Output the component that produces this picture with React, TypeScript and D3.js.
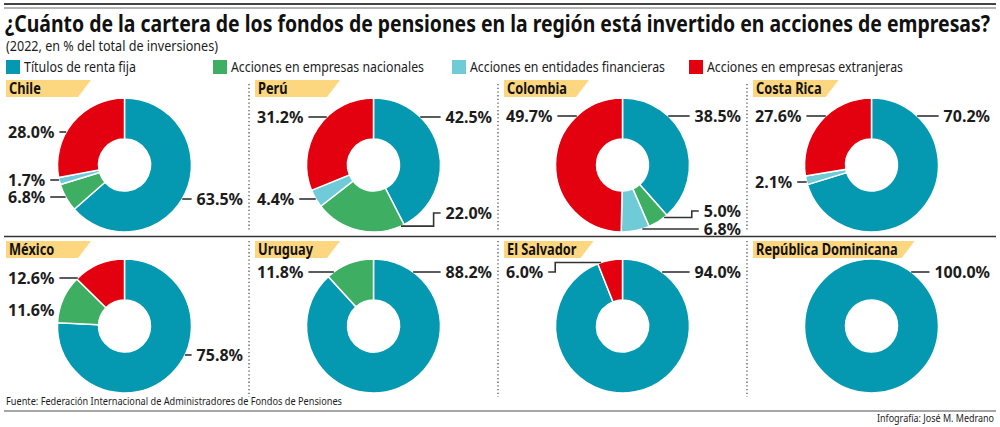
import React, { useRef, useEffect } from 'react';
import * as d3 from 'd3';

const title = '¿Cuánto de la cartera de los fondos de pensiones en la región está invertido en acciones de empresas?';
const subtitle = '(2022, en % del total de inversiones)';
const source = 'Fuente: Federación Internacional de Administradores de Fondos de Pensiones';
const credit = 'Infografía: José M. Medrano';

const countries = ['Chile', 'Perú', 'Colombia', 'Costa Rica', 'México', 'Uruguay', 'El Salvador', 'República Dominicana'];
const seriesNames = [
  'Títulos de renta fija',
  'Acciones en empresas nacionales',
  'Acciones en entidades financieras',
  'Acciones en empresas extranjeras',
];
const rentaFija = [63.5, 42.5, 38.5, 70.2, 75.8, 88.2, 94.0, 100.0];
const nacionales = [6.8, 22.0, 5.0, 0, 11.6, 11.8, 0, 0];
const financieras = [1.7, 4.4, 6.8, 2.1, 0, 0, 0, 0];
const extranjeras = [28.0, 31.2, 49.7, 27.6, 12.6, 0, 6.0, 0];

const seriesColors = ['#0499b0', '#3eae62', '#70cbd8', '#e3000f'];

// layout: legend positions / text widths
const legendX = [6, 213, 452, 689];
const legendW = [112, 193, 195, 196];
// label vertical offset from the pie centre, one per series (null = no label)
const labelDy: (number | null)[][] = [
  [34, 32, 15, -33],
  [-48, 48, 34, -48],
  [-49, 46, 64, -49],
  [-49, null, 17, -49],
  [29, -16, null, -48],
  [-54, -54, null, null],
  [-54, null, null, -54],
  [-54, null, null, null],
];

const WIDTH = 1000;
const HEIGHT = 427;
const R_OUT = 67;
const R_IN = 26;
const INK = '#1c1c1c';
const FONT = '"Noto Sans", sans-serif';

const App: React.FC = () => {
  const svgRef = useRef<SVGSVGElement>(null);

  useEffect(() => {
    if (!svgRef.current) return;
    const svg = d3.select(svgRef.current);
    svg.selectAll('*').remove();

    svg.append('rect').attr('width', WIDTH).attr('height', HEIGHT).attr('fill', '#fff');

    // top rules
    svg.append('line').attr('x1', 4).attr('x2', 996).attr('y1', 4).attr('y2', 4)
      .attr('stroke', '#444').attr('stroke-width', 1.8);
    svg.append('line').attr('x1', 4).attr('x2', 996).attr('y1', 8).attr('y2', 8)
      .attr('stroke', '#666').attr('stroke-width', 1);

    // title + subtitle
    svg.append('text')
      .attr('x', 5).attr('y', 32)
      .attr('textLength', 985).attr('lengthAdjust', 'spacingAndGlyphs')
      .style('font-family', FONT).style('font-weight', 700).style('font-size', '23.5px')
      .style('fill', '#111')
      .text(title);

    svg.append('text')
      .attr('x', 6).attr('y', 51)
      .attr('textLength', 212).attr('lengthAdjust', 'spacingAndGlyphs')
      .style('font-family', FONT).style('font-size', '15px').style('fill', INK)
      .text(subtitle);

    // legend
    seriesNames.forEach((name, i) => {
      svg.append('rect')
        .attr('x', legendX[i]).attr('y', 60).attr('width', 14).attr('height', 14)
        .attr('fill', seriesColors[i]);
      svg.append('text')
        .attr('x', legendX[i] + 18).attr('y', 72)
        .attr('textLength', legendW[i]).attr('lengthAdjust', 'spacingAndGlyphs')
        .style('font-family', FONT).style('font-size', '15px').style('fill', INK)
        .text(name);
    });

    const col = d3.scaleBand<number>().domain(d3.range(4)).range([0, 996]);
    const bw = col.bandwidth();
    const rowTop = [80, 241];

    // separators
    svg.append('line').attr('x1', 4).attr('x2', 996).attr('y1', 236.5).attr('y2', 236.5)
      .attr('stroke', '#333').attr('stroke-width', 1.3);
    [1, 2, 3].forEach(c => {
      [[84, 232], [241, 397]].forEach(([y1, y2]) => {
        svg.append('line')
          .attr('x1', col(c)!).attr('x2', col(c)!).attr('y1', y1).attr('y2', y2)
          .attr('stroke', '#555').attr('stroke-width', 1.3).attr('stroke-dasharray', '1.3,2.4');
      });
    });

    const pie = d3.pie<number>().sort(null).value(d => d);
    const arc = d3.arc<d3.PieArcDatum<number>>().innerRadius(R_IN).outerRadius(R_OUT);

    countries.forEach((name, ci) => {
      const c = ci % 4;
      const r = Math.floor(ci / 4);
      const x0 = col(c)!;
      const top = rowTop[r];
      const cx = x0 + bw / 2;
      const cy = top + 85;

      // banner
      const banner = svg.append('g');
      const bannerPath = banner.append('path').attr('fill', '#fdd680');
      const bannerText = banner.append('text')
        .attr('transform', `translate(${x0 + 9},${top + 14}) scale(0.8,1)`)
        .style('font-family', FONT).style('font-weight', 700).style('font-size', '16px')
        .style('fill', '#111')
        .text(name);
      const tw = (bannerText.node() as SVGTextElement).getComputedTextLength() * 0.8;
      const bW = Math.max(85, tw + 20);
      const bx = x0 + 6;
      bannerPath.attr('d', `M${bx},${top}H${bx + bW}L${bx + bW - 13},${top + 17}H${bx}Z`);

      // donut
      const values = [rentaFija[ci], nacionales[ci], financieras[ci], extranjeras[ci]];
      const arcs = pie(values);
      const g = svg.append('g').attr('transform', `translate(${cx},${cy})`);
      g.selectAll('path')
        .data(arcs.filter(a => a.value > 0))
        .enter()
        .append('path')
        .attr('d', arc)
        .attr('fill', a => seriesColors[a.index])
        .attr('stroke', '#fff')
        .attr('stroke-width', 1.5);

      // labels + leaders
      arcs.forEach((a, i) => {
        const dy = labelDy[ci][i];
        if (a.value <= 0 || dy === null) return;
        const side = a.startAngle < Math.PI ? 1 : -1;
        const y = cy + dy;
        const tx = side > 0 ? x0 + 243 : x0 + 8;
        const t = svg.append('text')
          .attr('x', tx).attr('y', y + 5.6)
          .attr('text-anchor', side > 0 ? 'end' : 'start')
          .style('font-family', FONT).style('font-weight', 700).style('font-size', '16px')
          .style('fill', INK)
          .text(`${a.value.toFixed(1)}%`);
        const w = (t.node() as SVGTextElement).getComputedTextLength();
        const edge = side > 0 ? tx - w : tx + w;
        const start = edge - side * 5;

        let d = '';
        if (Math.abs(dy) < R_OUT) {
          const hx = side * Math.sqrt(R_OUT * R_OUT - dy * dy);
          let th = Math.atan2(hx, -dy);
          if (th < 0) th += 2 * Math.PI;
          if (th >= a.startAngle && th <= a.endAngle) {
            d = `M${start},${y}H${cx + hx}`;
          }
        }
        if (!d) {
          const ang = a.startAngle + Math.min((a.endAngle - a.startAngle) * 0.35, (3 * Math.PI) / 180);
          const ax = cx + R_OUT * Math.sin(ang);
          const ay = cy - R_OUT * Math.cos(ang);
          const ex = edge - side * 12;
          d = `M${start},${y}H${ex}V${ay}H${ax}`;
        }
        svg.append('path')
          .attr('d', d)
          .attr('fill', 'none')
          .attr('stroke', '#333')
          .attr('stroke-width', 1.6);
      });
    });

    // footer
    svg.append('text')
      .attr('x', 6).attr('y', 405)
      .attr('textLength', 336).attr('lengthAdjust', 'spacingAndGlyphs')
      .style('font-family', FONT).style('font-size', '11.5px').style('fill', INK)
      .text(source);
    svg.append('line').attr('x1', 4).attr('x2', 996).attr('y1', 411).attr('y2', 411)
      .attr('stroke', '#888').attr('stroke-width', 1.5);
    svg.append('text')
      .attr('x', 877).attr('y', 422)
      .attr('textLength', 117).attr('lengthAdjust', 'spacingAndGlyphs')
      .style('font-family', FONT).style('font-size', '11px').style('fill', INK)
      .text(credit);
  }, []);

  return (
    <svg
      ref={svgRef}
      width={WIDTH}
      height={HEIGHT}
      style={{ position: 'absolute', left: 0, top: 0, display: 'block' }}
    />
  );
};

export default App;
